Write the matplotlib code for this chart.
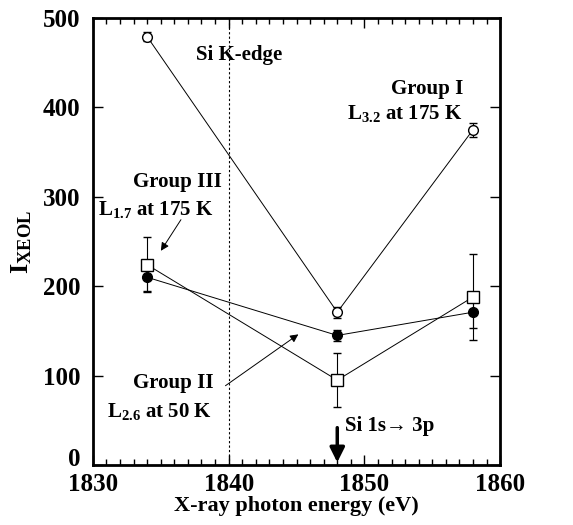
import matplotlib
matplotlib.use("Agg")
import matplotlib.pyplot as plt
import matplotlib.transforms as mtransforms
from matplotlib.ticker import MultipleLocator

plt.rcParams['font.family'] = ['Liberation Serif', 'DejaVu Serif']
plt.rcParams['font.weight'] = 'bold'
plt.rcParams['axes.labelweight'] = 'bold'
plt.rcParams['mathtext.fontset'] = 'custom'
plt.rcParams['mathtext.rm'] = 'Liberation Serif:bold'
plt.rcParams['mathtext.bf'] = 'Liberation Serif:bold'
plt.rcParams['mathtext.it'] = 'Liberation Serif:bold'

# Data
energy = [1834, 1848, 1858]
group1 = [479, 171, 375]
group1_err = [5, 6, 8]
group2 = [210, 145, 171]
group2_err = [15, 6, 18]
group3 = [224, 95, 188]
group3_err = [31, 30, 48]
x_ticks = [1830, 1840, 1850, 1860]
y_ticks = [0, 100, 200, 300, 400, 500]

fig = plt.figure(figsize=(5.73, 5.25), dpi=100)
ax = fig.add_axes([0.162, 0.114, 0.711, 0.852])

ax.errorbar(energy, group1, yerr=group1_err, color='black', lw=0.7,
            marker='o', ms=7, mfc='white', mec='black', mew=1, capsize=3, elinewidth=0.8)
ax.errorbar(energy, group2, yerr=group2_err, color='black', lw=0.7,
            marker='o', ms=7, mfc='black', mec='black', mew=1, capsize=3, elinewidth=0.8)
ax.errorbar(energy, group3, yerr=group3_err, color='black', lw=0.7,
            marker='s', ms=8, mfc='white', mec='black', mew=1, capsize=3, elinewidth=0.8)

# Si K-edge line
ax.axvline(1840, color='black', ls=(0, (2, 2)), lw=0.8)
ax.text(1840.8, 458, 'Si K-edge', ha='center', va='center', fontsize=15)

# labels
ax.text(1854.6, 420, 'Group I', ha='center', va='center', fontsize=15)
ax.text(1857.2, 393, r'L$_{3.2}$ at 175 K', ha='right', va='center', fontsize=15)
ax.text(1836.2, 316, 'Group III', ha='center', va='center', fontsize=15)
ax.text(1838.9, 286, r'L$_{1.7}$ at 175 K', ha='right', va='center', fontsize=15)
ax.annotate('', xy=(1834.9, 237), xytext=(1836.6, 277),
            arrowprops=dict(arrowstyle='-|>', color='black', lw=0.7, mutation_scale=12))
ax.text(1835.9, 92, 'Group II', ha='center', va='center', fontsize=15)
ax.text(1838.8, 60, r'L$_{2.6}$ at 50 K', ha='right', va='center', fontsize=15)
ax.annotate('', xy=(1845.3, 148), xytext=(1839.6, 87),
            arrowprops=dict(arrowstyle='-|>', color='black', lw=0.7, mutation_scale=12))

# Si 1s -> 3p
ax.annotate('', xy=(1848, 0), xytext=(1848, 45),
            arrowprops=dict(arrowstyle='-|>', color='black', lw=2.5, mutation_scale=22))
ax.text(1848.6, 44, 'Si 1s\u2192 3p', ha='left', va='center', fontsize=15)

ax.set_xlim(1830, 1860)
ax.set_ylim(0, 500)
ax.set_xticks(x_ticks)
ax.set_yticks(y_ticks)
ax.xaxis.set_minor_locator(MultipleLocator(1))
ax.tick_params(which='both', direction='in', top=True, right=True, labelsize=18, width=1)
ax.tick_params(which='major', length=7)
ax.tick_params(which='minor', length=4)
ax.tick_params(axis='x', which='major', pad=6)
ax.tick_params(axis='y', which='major', pad=9)
for s in ax.spines.values():
    s.set_linewidth(2)

# nudge the "0" label up so it clears "1830"
zero_lbl = ax.get_yticklabels()[0]
zero_lbl.set_transform(zero_lbl.get_transform() +
                       mtransforms.ScaledTranslation(0, 6 / 72, fig.dpi_scale_trans))

ax.set_xlabel('X-ray photon energy (eV)', fontsize=16, labelpad=0)
ax.set_ylabel(r'I$_{\mathrm{XEOL}}$', fontsize=19, labelpad=6)

fig.savefig('out.png', dpi=100)
